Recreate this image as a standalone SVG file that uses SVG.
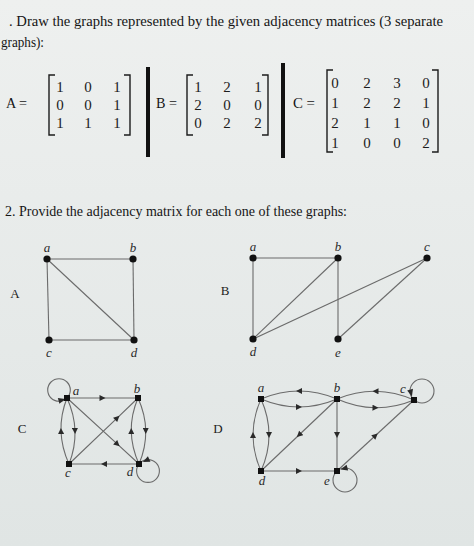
<svg xmlns="http://www.w3.org/2000/svg" width="474" height="546" viewBox="0 0 474 546">
<defs>
<linearGradient id="bg" x1="0" y1="0" x2="0" y2="1">
<stop offset="0" stop-color="#eef0ef"/>
<stop offset="1" stop-color="#e0e5e4"/>
</linearGradient>
<marker id="ah" viewBox="0 0 10 10" refX="5" refY="5" markerWidth="7" markerHeight="6" markerUnits="userSpaceOnUse" orient="auto">
<path d="M0,0 L10,5 L0,10 z" fill="#2a2a2a"/>
</marker>
<path id="arr" d="M-3.5,-3 L3.5,0 L-3.5,3 z" fill="#2a2a2a"/>
</defs>
<style>
.t{font-family:"Liberation Serif","Times New Roman",serif;fill:#151515}
.m{font-family:"Liberation Serif","Times New Roman",serif;fill:#1c1c1c;font-size:15px;text-anchor:middle}
.lbl{font-family:"Liberation Serif","Times New Roman",serif;fill:#2a2a2a;font-size:13px;font-style:italic;text-anchor:middle}
.gl{font-family:"Liberation Serif","Times New Roman",serif;fill:#222;font-size:13px;text-anchor:middle}
.br{fill:none;stroke:#1c1c1c;stroke-width:1.4}
.e{fill:none;stroke:#6b6b6b;stroke-width:1.1}
.ea{fill:none;stroke:#6b6b6b;stroke-width:1.1;marker-mid:url(#ah)}
.n{fill:#111}
</style>
<rect width="474" height="546" fill="url(#bg)"/>

<!-- Question 1 text -->
<text class="t" x="9" y="26" font-size="15" textLength="434" lengthAdjust="spacingAndGlyphs">. Draw the graphs represented by the given adjacency matrices (3 separate</text>
<text class="t" x="1" y="47" font-size="15" textLength="43" lengthAdjust="spacingAndGlyphs">graphs):</text>

<!-- Matrix A -->
<g id="matrixA">
<text class="t" x="6" y="108" font-size="14" textLength="21" lengthAdjust="spacingAndGlyphs">A =</text>
<path class="br" d="M55 75 H49 V135 H55"/>
<path class="br" d="M124 75 H130 V135 H124"/>
<text class="m" x="60" y="92">1</text><text class="m" x="88" y="92">0</text><text class="m" x="117" y="92">1</text>
<text class="m" x="60" y="110">0</text><text class="m" x="88" y="110">0</text><text class="m" x="117" y="110">1</text>
<text class="m" x="60" y="128">1</text><text class="m" x="88" y="128">1</text><text class="m" x="117" y="128">1</text>
</g>
<rect x="146" y="67" width="4" height="90" fill="#111"/>

<!-- Matrix B -->
<g id="matrixB">
<text class="t" x="156" y="108" font-size="14" textLength="21" lengthAdjust="spacingAndGlyphs">B =</text>
<path class="br" d="M193 75 H187 V135 H193"/>
<path class="br" d="M262 75 H268 V135 H262"/>
<text class="m" x="198" y="92">1</text><text class="m" x="227" y="92">2</text><text class="m" x="258" y="92">1</text>
<text class="m" x="198" y="110">2</text><text class="m" x="227" y="110">0</text><text class="m" x="258" y="110">0</text>
<text class="m" x="198" y="128">0</text><text class="m" x="227" y="128">2</text><text class="m" x="258" y="128">2</text>
</g>
<rect x="281" y="63" width="4" height="95" fill="#111"/>

<!-- Matrix C -->
<g id="matrixC">
<text class="t" x="293" y="108" font-size="14" textLength="22" lengthAdjust="spacingAndGlyphs">C =</text>
<path class="br" d="M333 70 H327 V152 H333"/>
<path class="br" d="M432 70 H438 V152 H432"/>
<text class="m" x="335" y="88">0</text><text class="m" x="367" y="88">2</text><text class="m" x="397" y="88">3</text><text class="m" x="426" y="88">0</text>
<text class="m" x="335" y="108">1</text><text class="m" x="367" y="108">2</text><text class="m" x="397" y="108">2</text><text class="m" x="426" y="108">1</text>
<text class="m" x="335" y="128">2</text><text class="m" x="367" y="128">1</text><text class="m" x="397" y="128">1</text><text class="m" x="426" y="128">0</text>
<text class="m" x="335" y="148">1</text><text class="m" x="367" y="148">0</text><text class="m" x="397" y="148">0</text><text class="m" x="426" y="148">2</text>
</g>

<!-- Question 2 text -->
<text class="t" x="5" y="216" font-size="15.5" textLength="342" lengthAdjust="spacingAndGlyphs">2. Provide the adjacency matrix for each one of these graphs:</text>

<!-- graph labels -->
<text class="gl" x="15" y="298">A</text>
<text class="gl" x="225" y="295">B</text>
<text class="gl" x="22" y="433">C</text>
<text class="gl" x="218" y="433">D</text>

<!-- Connectors -->
<g id="connectors">
<!-- Graph A -->
<path class="e" d="M47 259 L133 259"/>
<path class="e" d="M47 259 L49 340"/>
<path class="e" d="M47 259 L134 340"/>
<path class="e" d="M133 259 L134 340"/>
<path class="e" d="M49 340 L134 340"/>
<!-- Graph B -->
<path class="e" d="M253 258 L338 258"/>
<path class="e" d="M253 258 L253 339"/>
<path class="e" d="M338 258 L253 339"/>
<path class="e" d="M338 258 L338 339"/>
<path class="e" d="M427 258 L253 339"/>
<path class="e" d="M427 258 L338 339"/>
<!-- Graph C -->
<path class="ea" d="M69 464 Q61.5 447.5 61 431 Q60.5 414.5 67 398"/>
<path class="ea" d="M67 398 Q74.5 414.5 75 431 Q75.5 447.5 69 464"/>
<path class="ea" d="M139 464 Q131.5 447.5 131.25 431 Q131 414.5 138 398"/>
<path class="ea" d="M138 398 Q145.5 414.5 145.75 431 Q146 447.5 139 464"/>
<path class="ea" d="M67 398 L102.5 398 L138 398"/>
<path class="ea" d="M67 398 L117.4 444.2 L139 464"/>
<path class="ea" d="M69 464 L117.3 417.8 L138 398"/>
<path class="ea" d="M139 464 L104 464 L69 464"/>
<circle class="e" cx="59" cy="390" r="11.3"/>
<use href="#arr" transform="translate(62 400) rotate(-15)"/>
<circle class="e" cx="148" cy="471" r="11.4"/>
<use href="#arr" transform="translate(146 460.5) rotate(155)"/>
<!-- Graph D -->
<path class="ea" d="M337 399 Q318 391 299 391 Q280 391 261 399"/>
<path class="ea" d="M261 399 Q280 407 299 407 Q318 407 337 399"/>
<path class="ea" d="M414 400 Q394.75 391.5 375.5 391.25 Q356.25 391 337 399"/>
<path class="ea" d="M337 399 Q356.25 407.5 375.5 407.75 Q394.75 408 414 400"/>
<path class="ea" d="M261 471 Q253 453 253 435 Q253 417 261 399"/>
<path class="ea" d="M261 399 Q269 417 269 435 Q269 453 261 471"/>
<path class="ea" d="M337 399 L299 435 L261 471"/>
<path class="ea" d="M337 399 L337 435 L337 471"/>
<path class="ea" d="M261 471 L299 471 L337 471"/>
<path class="ea" d="M337 471 L375.5 435.5 L414 400"/>
<circle class="e" cx="422" cy="391" r="12"/>
<use href="#arr" transform="translate(411 393) rotate(75)"/>
<circle class="e" cx="345" cy="480" r="12"/>
<use href="#arr" transform="translate(344 468.5) rotate(165)"/>
</g>

<!-- Graph A nodes -->
<g id="A-a"><circle class="n" cx="47" cy="259" r="3.6"/><text class="lbl" x="47" y="252">a</text></g>
<g id="A-b"><circle class="n" cx="133" cy="259" r="3.6"/><text class="lbl" x="133" y="252">b</text></g>
<g id="A-c"><circle class="n" cx="49" cy="340" r="3.6"/><text class="lbl" x="49" y="357">c</text></g>
<g id="A-d"><circle class="n" cx="134" cy="340" r="3.6"/><text class="lbl" x="134" y="357">d</text></g>

<!-- Graph B nodes -->
<g id="B-a"><circle class="n" cx="253" cy="258" r="3.6"/><text class="lbl" x="253" y="251">a</text></g>
<g id="B-b"><circle class="n" cx="338" cy="258" r="3.6"/><text class="lbl" x="338" y="251">b</text></g>
<g id="B-c"><circle class="n" cx="427" cy="258" r="3.6"/><text class="lbl" x="427" y="251">c</text></g>
<g id="B-d"><circle class="n" cx="253" cy="339" r="3.6"/><text class="lbl" x="253" y="356">d</text></g>
<g id="B-e"><circle class="n" cx="338" cy="339" r="3.6"/><text class="lbl" x="338" y="357">e</text></g>

<!-- Graph C nodes -->
<g id="C-a"><rect class="n" x="64" y="395" width="6" height="6"/><text class="lbl" x="76" y="395">a</text></g>
<g id="C-b"><rect class="n" x="135" y="395" width="6" height="6"/><text class="lbl" x="137" y="393">b</text></g>
<g id="C-c"><rect class="n" x="66" y="461" width="6" height="6"/><text class="lbl" x="68" y="477">c</text></g>
<g id="C-d"><rect class="n" x="136" y="461" width="6" height="6"/><text class="lbl" x="130" y="476">d</text></g>

<!-- Graph D nodes -->
<g id="D-a"><rect class="n" x="258" y="396" width="6" height="6"/><text class="lbl" x="261" y="392">a</text></g>
<g id="D-b"><rect class="n" x="334" y="396" width="6" height="6"/><text class="lbl" x="337" y="392">b</text></g>
<g id="D-c"><rect class="n" x="411" y="397" width="6" height="6"/><text class="lbl" x="403" y="393">c</text></g>
<g id="D-d"><rect class="n" x="258" y="468" width="6" height="6"/><text class="lbl" x="262" y="485">d</text></g>
<g id="D-e"><rect class="n" x="334" y="468" width="6" height="6"/><text class="lbl" x="327" y="485">e</text></g>
</svg>
